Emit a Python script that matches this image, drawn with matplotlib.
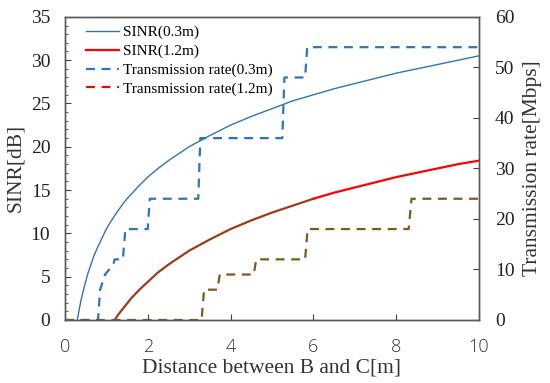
import matplotlib.pyplot as plt
import numpy as np

# SINR curves (distance [m] -> SINR [dB])
d_03 = [0.3, 0.33, 0.36, 0.4, 0.45, 0.5, 0.55, 0.6, 0.7, 0.8, 0.9, 1.0, 1.1, 1.25, 1.4,
        1.5, 1.75, 2.0, 2.25, 2.5, 2.75, 3.0, 3.5, 4.0, 4.5, 5.0, 5.5, 6.0, 6.5, 7.0,
        7.5, 8.0, 8.5, 9.0, 9.5, 10.0]
sinr_03 = [0.0, 0.8, 1.6, 2.5, 3.5, 4.4, 5.3, 6.0, 7.4, 8.5, 9.5, 10.5, 11.3, 12.4, 13.4,
           14.0, 15.3, 16.5, 17.5, 18.4, 19.2, 20.0, 21.3, 22.5, 23.5, 24.4, 25.3, 26.0,
           26.7, 27.3, 27.9, 28.5, 29.0, 29.5, 30.0, 30.5]
d_12 = [1.2, 1.3, 1.4, 1.5, 1.6, 1.7, 1.8, 2.0, 2.25, 2.5, 2.75, 3.0, 3.5, 4.0, 4.5, 5.0,
        5.5, 6.0, 6.5, 7.0, 7.5, 8.0, 8.5, 9.0, 9.5, 10.0]
sinr_12 = [0.0, 0.7, 1.3, 1.9, 2.5, 3.0, 3.5, 4.4, 5.5, 6.4, 7.2, 8.0, 9.3, 10.5, 11.5,
           12.4, 13.2, 14.0, 14.7, 15.3, 15.9, 16.5, 17.0, 17.5, 18.0, 18.4]

# transmission rate steps (distance [m] -> rate [Mbps])
rd_03 = [0, 0.8, 0.85, 0.97, 1.17, 1.2, 1.4, 1.46, 2.0, 2.05, 3.22, 3.27, 5.25, 5.3, 5.8,
         5.85, 10]
rate_03 = [0, 0, 6, 9, 11, 12, 12, 18, 18, 24, 24, 36, 36, 48, 48, 54, 54]
rd_12 = [0, 3.3, 3.36, 3.68, 3.74, 4.56, 4.62, 5.8, 5.86, 8.3, 8.37, 10]
rate_12 = [0, 0, 6, 6, 9, 9, 12, 12, 18, 18, 24, 24]

blue = '#2e75b6'
red = '#ff0000'
brown = '#7b5a22'
serif = 'Liberation Serif'

fig = plt.figure(figsize=(5.5, 3.83), dpi=100)
ax1 = fig.add_axes([0.118, 0.1645, 0.753, 0.7915])
ax2 = ax1.twinx()

l1, = ax1.plot(d_03, sinr_03, c=blue, lw=1.0)
# red curve looks brownish in its first half in the picture
d12 = np.array(d_12)
s12 = np.array(sinr_12)
m = d12 <= 6.0
ax1.plot(d12[m], s12[m], c='#9c3c1a', lw=1.6)
ax1.plot(d12[d12 >= 6.0], s12[d12 >= 6.0], c=red, lw=1.6)
l2, = ax1.plot([], [], c=red, lw=1.6)

l3, = ax2.plot(rd_03, rate_03, c=blue, lw=1.6, ls=(0, (4, 3)))
ax2.plot(rd_12, rate_12, c=brown, lw=1.6, ls=(0, (4, 3)))
l4, = ax2.plot([], [], c=red, lw=1.6, ls=(0, (4, 3)))

ax1.set_xlim(0, 10)
ax1.set_ylim(0, 35)
ax2.set_ylim(0, 60)
ax1.set_xticks([0, 2, 4, 6, 8, 10])
ax1.set_yticks(range(0, 36, 5))
ax1.set_yticks(range(0, 36, 1), minor=True)
ax2.set_yticks(range(0, 61, 10))

ax1.tick_params(axis='both', which='both', direction='in', colors='#404040')
ax1.tick_params(axis='y', which='major', length=4, labelsize=14, labelcolor='#222222',
                pad=10.5)
ax1.tick_params(axis='y', which='minor', length=2.5)
ax1.tick_params(axis='x', length=4, labelsize=13, labelcolor='#333333', pad=13)
ax2.tick_params(axis='y', direction='in', length=4, labelsize=14, colors='#404040',
                labelcolor='#222222', pad=11.5)
for lab in ax1.get_yticklabels() + ax2.get_yticklabels():
    lab.set_fontfamily(serif)
for lab in ax1.get_xticklabels():
    lab.set_fontfamily('Open Sans')
    lab.set_fontweight('light')

for ax in (ax1, ax2):
    for s in ax.spines.values():
        s.set_color('#595959')
        s.set_linewidth(1.0)

ax1.set_xlabel('Distance between B and C[m]', fontsize=15.5, family=serif, labelpad=2,
               color='#333333')
ax1.set_ylabel('SINR[dB]', fontsize=15.5, family=serif, labelpad=4, color='#333333')
ax2.set_ylabel('Transmission rate[Mbps]', fontsize=15.5, family=serif, labelpad=6,
               color='#333333')

ax1.legend([l1, l2, l3, l4],
           ['SINR(0.3m)', 'SINR(1.2m)', 'Transmission rate(0.3m)', 'Transmission rate(1.2m)'],
           loc='upper left', frameon=False, prop={'family': serif, 'size': 11},
           handlelength=2.15, handletextpad=0.27, labelspacing=0.33,
           borderaxespad=0.2, bbox_to_anchor=(0.029, 1.002))

plt.savefig('out.png', dpi=100)
plt.close()
